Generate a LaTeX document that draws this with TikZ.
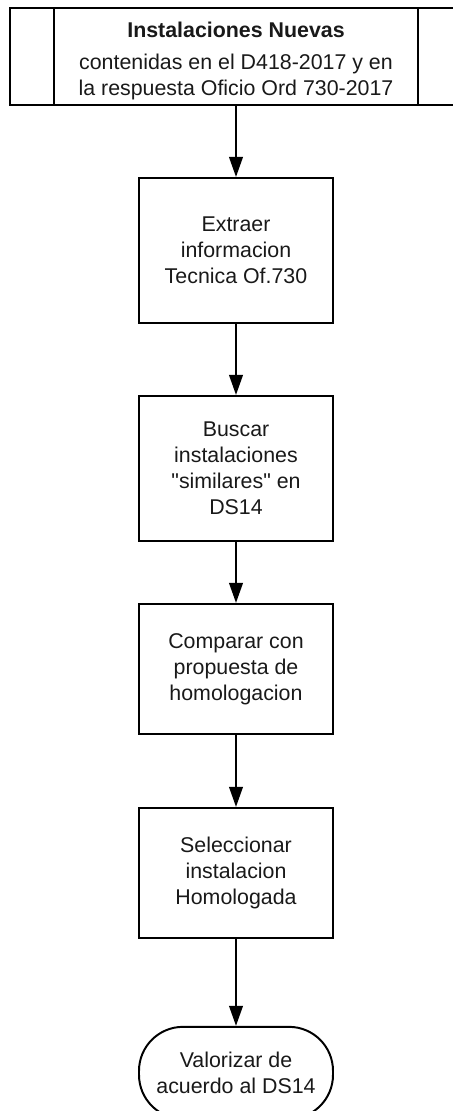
\documentclass[tikz,border=0pt]{standalone}
\usepackage{fontspec}
\setmainfont{Liberation Sans}
\usetikzlibrary{positioning, arrows.meta}
\tikzset{
    auto, node distance = 1.775cm and 1cm,% distance between one box and the next
}

\begin{document}
\begin{tikzpicture}[line width=1.4pt
        ,every node/.style={draw, align=center, text=black!90, font=\fontsize{15.2}{18.5}\selectfont}
        ,paso/.style={rectangle, minimum width=4.85cm, minimum height=3.625cm},]
            \useasboundingbox (0,0) rectangle (11.325,-27.775);
            \clip (0,0) rectangle (11.325,-27.775);
            \node[minimum width=11.3cm, minimum height=2.425cm] (inst) at (5.9,-1.4125) {\rule{0pt}{17pt}\textbf{Instalaciones Nuevas}\\[4pt]contenidas en el D418-2017 y en\\la respuesta Oficio Ord 730-2017};
            \draw ([xshift=1.125cm]inst.north west) -- ([xshift=1.125cm]inst.south west);
            \draw ([xshift=-1.125cm]inst.north east) -- ([xshift=-1.125cm]inst.south east);
            \node[paso] (extr) [below =of inst] {Extraer\\informacion\\Tecnica Of.730};
            \node[paso] (busc) [below =of extr] {Buscar\\instalaciones\\\textquotedbl similares\textquotedbl{} en\\DS14};
            \node[paso, minimum height=3.25cm] (comp) [below =1.525cm of busc] {Comparar con\\propuesta de\\homologacion};
            \node[paso, minimum height=3.25cm] (selec) [below =1.8cm of comp] {Seleccionar\\instalacion\\Homologada};
            \node[paso, minimum height=2.3cm, rounded corners=1.1cm] (valor) [below =2.175cm of selec] {Valorizar de\\acuerdo al DS14};
            \path[-{Triangle[length=0.5cm, width=0.34cm]}] (inst) edge (extr);
            \path[-{Triangle[length=0.5cm, width=0.34cm]}] (extr) edge (busc);
            \path[-{Triangle[length=0.5cm, width=0.34cm]}] (busc) edge (comp);
            \path[-{Triangle[length=0.5cm, width=0.34cm]}] (comp) edge (selec);
            \path[-{Triangle[length=0.5cm, width=0.34cm]}] (selec) edge (valor);
        \end{tikzpicture}
\end{document}
